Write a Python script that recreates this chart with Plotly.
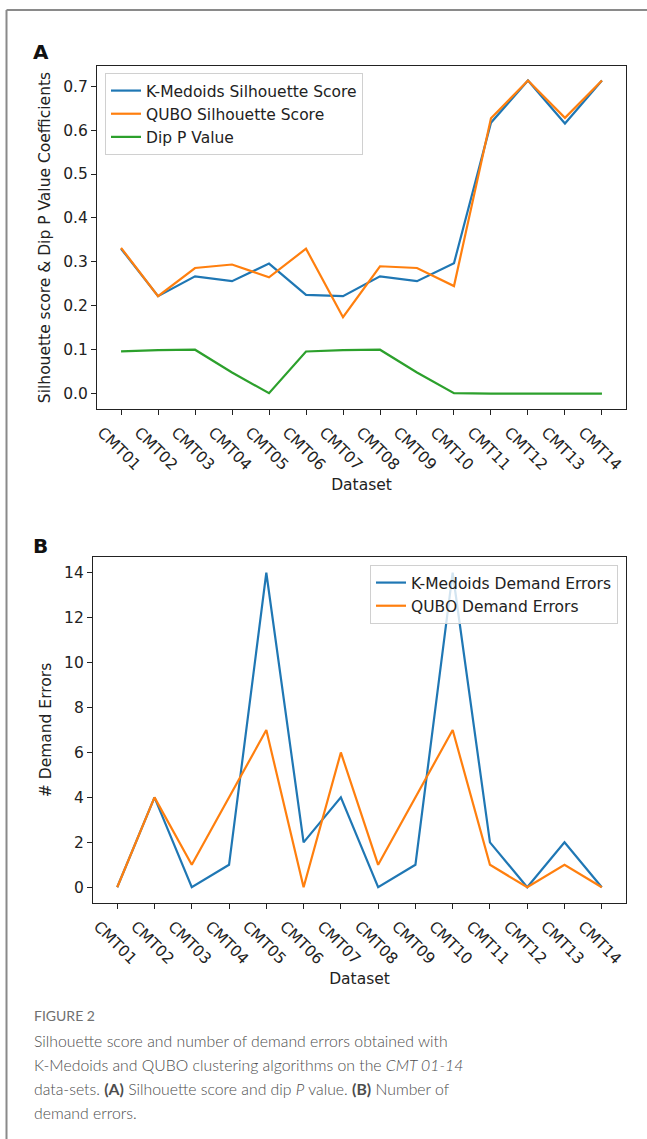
import plotly.graph_objects as go

W, H = 647, 1139

datasets = ["CMT01", "CMT02", "CMT03", "CMT04", "CMT05", "CMT06", "CMT07",
            "CMT08", "CMT09", "CMT10", "CMT11", "CMT12", "CMT13", "CMT14"]

kmedoids_sil = [0.330, 0.222, 0.267, 0.256, 0.296, 0.225, 0.222,
                0.267, 0.256, 0.297, 0.617, 0.713, 0.615, 0.713]
qubo_sil = [0.332, 0.222, 0.286, 0.294, 0.265, 0.330, 0.174,
            0.290, 0.286, 0.245, 0.627, 0.713, 0.628, 0.713]
dip_p = [0.096, 0.099, 0.100, 0.048, 0.001, 0.096, 0.099,
         0.100, 0.048, 0.001, 0.0, 0.0, 0.0, 0.0]

kmedoids_err = [0, 4, 0, 1, 14, 2, 4, 0, 1, 14, 2, 0, 2, 0]
qubo_err = [0, 4, 1, 4, 7, 0, 6, 1, 4, 7, 1, 0, 1, 0]

sil_ticks = [0.0, 0.1, 0.2, 0.3, 0.4, 0.5, 0.6, 0.7]
err_ticks = [0, 2, 4, 6, 8, 10, 12, 14]

BLUE, ORANGE, GREEN = "#1f77b4", "#ff7f0e", "#2ca02c"
FONT = "DejaVu Sans"
FS = 15.5


def px(x):
    return x / W


def py(y):
    return 1 - y / H


fig = go.Figure()

fig.add_trace(go.Scatter(x=datasets, y=kmedoids_sil, mode="lines", name="K-Medoids Silhouette Score",
                         line=dict(color=BLUE, width=2.2), xaxis="x", yaxis="y", legend="legend"))
fig.add_trace(go.Scatter(x=datasets, y=qubo_sil, mode="lines", name="QUBO Silhouette Score",
                         line=dict(color=ORANGE, width=2.2), xaxis="x", yaxis="y", legend="legend"))
fig.add_trace(go.Scatter(x=datasets, y=dip_p, mode="lines", name="Dip P Value",
                         line=dict(color=GREEN, width=2.2), xaxis="x", yaxis="y", legend="legend"))

fig.add_trace(go.Scatter(x=datasets, y=kmedoids_err, mode="lines", name="K-Medoids Demand Errors",
                         line=dict(color=BLUE, width=2.2), xaxis="x2", yaxis="y2", legend="legend2"))
fig.add_trace(go.Scatter(x=datasets, y=qubo_err, mode="lines", name="QUBO Demand Errors",
                         line=dict(color=ORANGE, width=2.2), xaxis="x2", yaxis="y2", legend="legend2"))

axis_common = dict(showline=True, linecolor="#222", linewidth=1.2, mirror=True,
                   ticks="outside", ticklen=5, tickwidth=1.2, tickcolor="#222",
                   showgrid=False, zeroline=False, automargin=False,
                   tickfont=dict(family=FONT, size=FS, color="#222"))

xa = dict(axis_common, type="category", range=[-0.65, 13.65], tickangle=45,
          ticklabelshift=-19, ticklabelstandoff=2,
          title=dict(text="Dataset", font=dict(family=FONT, size=FS, color="#222"), standoff=6))

fig.update_layout(
    width=W, height=H, template=None,
    margin=dict(l=0, r=0, t=0, b=0),
    paper_bgcolor="white", plot_bgcolor="white",
    font=dict(family=FONT, size=FS, color="#222"),
    xaxis=dict(xa, domain=[px(97), px(626)], anchor="y"),
    yaxis=dict(axis_common, domain=[py(409), py(66)], anchor="x",
               range=[-0.035, 0.746], tickvals=sil_ticks, tickformat=".1f",
               title=dict(text="Silhouette score & Dip P Value Coefficients",
                          font=dict(family=FONT, size=FS, color="#222"), standoff=8)),
    xaxis2=dict(xa, domain=[px(93), px(626)], anchor="y2"),
    yaxis2=dict(axis_common, domain=[py(903), py(557)], anchor="x2",
                range=[-0.7, 14.7], tickvals=err_ticks,
                title=dict(text="# Demand Errors",
                           font=dict(family=FONT, size=FS, color="#222"), standoff=8)),
    legend=dict(x=px(105), y=py(73), xanchor="left", yanchor="top",
                bgcolor="rgba(255,255,255,0.8)", bordercolor="#d0d0d0", borderwidth=1,
                font=dict(family=FONT, size=FS, color="#222"), tracegroupgap=0),
    legend2=dict(x=px(618), y=py(565), xanchor="right", yanchor="top",
                 bgcolor="rgba(255,255,255,0.8)", bordercolor="#d0d0d0", borderwidth=1,
                 font=dict(family=FONT, size=FS, color="#222"), tracegroupgap=0),
    showlegend=True,
)

# frame lines of the figure box
fig.add_shape(type="line", xref="paper", yref="paper", x0=px(6.5), x1=1, y0=py(10), y1=py(10),
              line=dict(color="#8a8a8a", width=2))
fig.add_shape(type="line", xref="paper", yref="paper", x0=px(6.5), x1=px(6.5), y0=py(10), y1=0,
              line=dict(color="#8a8a8a", width=2))

# panel letters
fig.add_annotation(text="<b>A</b>", x=px(31), y=py(52), xref="paper", yref="paper",
                   xanchor="left", yanchor="middle", showarrow=False,
                   font=dict(family=FONT, size=20, color="#111"))
fig.add_annotation(text="<b>B</b>", x=px(31), y=py(546), xref="paper", yref="paper",
                   xanchor="left", yanchor="middle", showarrow=False,
                   font=dict(family=FONT, size=20, color="#111"))

# caption
CAP = "Lato"
fig.add_annotation(text="FIGURE 2", x=px(32), y=py(1016), xref="paper", yref="paper",
                   xanchor="left", yanchor="middle", showarrow=False,
                   font=dict(family=CAP, size=14, color="#707070"))
caption_lines = [
    "Silhouette score and number of demand errors obtained with",
    "K-Medoids and QUBO clustering algorithms on the <i>CMT 01-14</i>",
    "data-sets. <b>(A)</b> Silhouette score and dip <i>P</i> value. <b>(B)</b> Number of",
    "demand errors.",
]
for i, line in enumerate(caption_lines):
    fig.add_annotation(text=line, x=px(32), y=py(1040 + i * 24.3), xref="paper", yref="paper",
                       xanchor="left", yanchor="middle", showarrow=False,
                       font=dict(family=CAP, size=15.8, color="#4d4d4d", weight=300))

fig.write_html("out.html", config={"displayModeBar": False},
               post_script="document.body.style.margin='0px';document.body.style.overflow='hidden';")
